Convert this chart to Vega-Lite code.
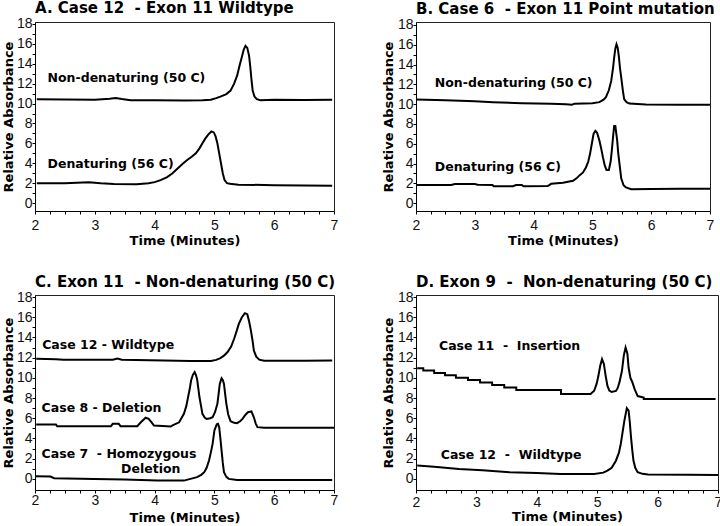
{
  "$schema": "https://vega.github.io/schema/vega-lite/v6.json",
  "padding": {"left": 1, "top": 0, "right": 0, "bottom": 0},
  "background": "white",
  "columns": 2,
  "align": "each",
  "spacing": {"row": 26, "column": 42},
  "config": {
    "font": "Liberation Sans",
    "view": {"stroke": "#222", "strokeWidth": 1},
    "axis": {"grid": false, "domainColor": "black", "tickColor": "black", "tickSize": 3, "labelFont": "Liberation Sans", "labelFontSize": 14, "labelColor": "#111", "titleFont": "DejaVu Sans", "titleFontSize": 13, "titleFontWeight": "bold", "titleColor": "black", "labelFlush": false, "labelOverlap": false},
    "title": {"font": "DejaVu Sans", "fontSize": 15, "fontWeight": "bold", "anchor": "start", "frame": "group", "offset": 0.5, "color": "black"},
    "line": {"color": "black", "strokeWidth": 2},
    "text": {"font": "DejaVu Sans", "fontSize": 12.5, "fontWeight": "bold", "align": "left", "baseline": "middle", "color": "black"}
  },
  "datasets": {
    "A": [
      {"s": "n", "t": 2.03, "v": 10.44}, {"s": "n", "t": 2.5, "v": 10.42}, {"s": "n", "t": 3.0, "v": 10.38}, {"s": "n", "t": 3.25, "v": 10.48}, {"s": "n", "t": 3.35, "v": 10.55}, {"s": "n", "t": 3.45, "v": 10.45}, {"s": "n", "t": 3.6, "v": 10.34}, {"s": "n", "t": 4.0, "v": 10.33}, {"s": "n", "t": 4.5, "v": 10.32}, {"s": "n", "t": 4.8, "v": 10.33}, {"s": "n", "t": 4.94, "v": 10.38}, {"s": "n", "t": 5.03, "v": 10.55}, {"s": "n", "t": 5.1, "v": 10.7}, {"s": "n", "t": 5.2, "v": 10.95}, {"s": "n", "t": 5.27, "v": 11.3}, {"s": "n", "t": 5.33, "v": 12.0}, {"s": "n", "t": 5.38, "v": 12.8}, {"s": "n", "t": 5.42, "v": 13.8}, {"s": "n", "t": 5.46, "v": 14.7}, {"s": "n", "t": 5.49, "v": 15.4}, {"s": "n", "t": 5.52, "v": 15.8}, {"s": "n", "t": 5.55, "v": 15.6}, {"s": "n", "t": 5.58, "v": 14.8}, {"s": "n", "t": 5.6, "v": 13.7}, {"s": "n", "t": 5.62, "v": 12.4}, {"s": "n", "t": 5.64, "v": 11.3}, {"s": "n", "t": 5.67, "v": 10.7}, {"s": "n", "t": 5.71, "v": 10.45}, {"s": "n", "t": 5.77, "v": 10.34}, {"s": "n", "t": 6.0, "v": 10.38}, {"s": "n", "t": 6.5, "v": 10.36}, {"s": "n", "t": 6.97, "v": 10.38},
      {"s": "d", "t": 2.03, "v": 2.0}, {"s": "d", "t": 2.5, "v": 1.98}, {"s": "d", "t": 2.9, "v": 2.1}, {"s": "d", "t": 3.1, "v": 2.0}, {"s": "d", "t": 3.32, "v": 1.92}, {"s": "d", "t": 3.7, "v": 1.9}, {"s": "d", "t": 3.9, "v": 1.98}, {"s": "d", "t": 4.0, "v": 2.1}, {"s": "d", "t": 4.1, "v": 2.3}, {"s": "d", "t": 4.21, "v": 2.6}, {"s": "d", "t": 4.3, "v": 3.0}, {"s": "d", "t": 4.38, "v": 3.45}, {"s": "d", "t": 4.47, "v": 3.95}, {"s": "d", "t": 4.55, "v": 4.35}, {"s": "d", "t": 4.62, "v": 4.65}, {"s": "d", "t": 4.69, "v": 5.0}, {"s": "d", "t": 4.75, "v": 5.5}, {"s": "d", "t": 4.8, "v": 6.0}, {"s": "d", "t": 4.85, "v": 6.5}, {"s": "d", "t": 4.9, "v": 6.9}, {"s": "d", "t": 4.95, "v": 7.2}, {"s": "d", "t": 4.99, "v": 7.1}, {"s": "d", "t": 5.02, "v": 6.7}, {"s": "d", "t": 5.05, "v": 6.0}, {"s": "d", "t": 5.08, "v": 5.0}, {"s": "d", "t": 5.11, "v": 4.0}, {"s": "d", "t": 5.14, "v": 3.0}, {"s": "d", "t": 5.17, "v": 2.3}, {"s": "d", "t": 5.21, "v": 2.0}, {"s": "d", "t": 5.26, "v": 1.93}, {"s": "d", "t": 5.4, "v": 1.85}, {"s": "d", "t": 6.0, "v": 1.8}, {"s": "d", "t": 6.5, "v": 1.77}, {"s": "d", "t": 6.97, "v": 1.75}
    ],
    "Alab": [
      {"t": 2.21, "v": 12.6, "label": "Non-denaturing (50 C)"},
      {"t": 2.21, "v": 3.9, "label": "Denaturing (56 C)"}
    ],
    "B": [
      {"s": "n", "t": 2.0, "v": 10.46}, {"s": "n", "t": 2.5, "v": 10.4}, {"s": "n", "t": 3.0, "v": 10.3}, {"s": "n", "t": 3.31, "v": 10.2}, {"s": "n", "t": 3.8, "v": 10.1}, {"s": "n", "t": 4.3, "v": 10.05}, {"s": "n", "t": 4.55, "v": 10.0}, {"s": "n", "t": 4.65, "v": 9.95}, {"s": "n", "t": 4.7, "v": 10.05}, {"s": "n", "t": 5.0, "v": 10.1}, {"s": "n", "t": 5.12, "v": 10.2}, {"s": "n", "t": 5.19, "v": 10.45}, {"s": "n", "t": 5.23, "v": 10.7}, {"s": "n", "t": 5.28, "v": 11.4}, {"s": "n", "t": 5.32, "v": 12.35}, {"s": "n", "t": 5.35, "v": 13.6}, {"s": "n", "t": 5.37, "v": 14.7}, {"s": "n", "t": 5.39, "v": 15.6}, {"s": "n", "t": 5.41, "v": 16.05}, {"s": "n", "t": 5.43, "v": 15.7}, {"s": "n", "t": 5.45, "v": 14.8}, {"s": "n", "t": 5.47, "v": 13.6}, {"s": "n", "t": 5.49, "v": 12.7}, {"s": "n", "t": 5.52, "v": 11.3}, {"s": "n", "t": 5.54, "v": 10.5}, {"s": "n", "t": 5.58, "v": 10.2}, {"s": "n", "t": 5.63, "v": 10.06}, {"s": "n", "t": 5.91, "v": 9.96}, {"s": "n", "t": 6.5, "v": 9.95}, {"s": "n", "t": 7.0, "v": 9.93},
      {"s": "d", "t": 2.0, "v": 1.82}, {"s": "d", "t": 2.6, "v": 1.82}, {"s": "d", "t": 2.66, "v": 1.92}, {"s": "d", "t": 3.0, "v": 1.92}, {"s": "d", "t": 3.05, "v": 1.85}, {"s": "d", "t": 3.3, "v": 1.82}, {"s": "d", "t": 3.32, "v": 1.7}, {"s": "d", "t": 3.65, "v": 1.7}, {"s": "d", "t": 3.7, "v": 1.82}, {"s": "d", "t": 3.8, "v": 1.82}, {"s": "d", "t": 3.83, "v": 1.7}, {"s": "d", "t": 4.24, "v": 1.72}, {"s": "d", "t": 4.3, "v": 1.95}, {"s": "d", "t": 4.5, "v": 2.05}, {"s": "d", "t": 4.67, "v": 2.25}, {"s": "d", "t": 4.73, "v": 2.5}, {"s": "d", "t": 4.78, "v": 2.8}, {"s": "d", "t": 4.84, "v": 3.1}, {"s": "d", "t": 4.89, "v": 3.6}, {"s": "d", "t": 4.93, "v": 4.2}, {"s": "d", "t": 4.96, "v": 4.98}, {"s": "d", "t": 4.99, "v": 6.0}, {"s": "d", "t": 5.02, "v": 7.0}, {"s": "d", "t": 5.05, "v": 7.3}, {"s": "d", "t": 5.08, "v": 7.1}, {"s": "d", "t": 5.12, "v": 6.3}, {"s": "d", "t": 5.15, "v": 5.5}, {"s": "d", "t": 5.18, "v": 4.6}, {"s": "d", "t": 5.21, "v": 3.8}, {"s": "d", "t": 5.24, "v": 3.35}, {"s": "d", "t": 5.28, "v": 3.35}, {"s": "d", "t": 5.31, "v": 4.2}, {"s": "d", "t": 5.33, "v": 5.3}, {"s": "d", "t": 5.35, "v": 6.6}, {"s": "d", "t": 5.37, "v": 7.8}, {"s": "d", "t": 5.39, "v": 7.8}, {"s": "d", "t": 5.42, "v": 6.4}, {"s": "d", "t": 5.44, "v": 5.0}, {"s": "d", "t": 5.47, "v": 3.5}, {"s": "d", "t": 5.49, "v": 2.5}, {"s": "d", "t": 5.53, "v": 1.8}, {"s": "d", "t": 5.57, "v": 1.58}, {"s": "d", "t": 5.66, "v": 1.41}, {"s": "d", "t": 6.0, "v": 1.42}, {"s": "d", "t": 6.5, "v": 1.44}, {"s": "d", "t": 7.0, "v": 1.45}
    ],
    "Blab": [
      {"t": 2.32, "v": 12.15, "label": "Non-denaturing (50 C)"},
      {"t": 2.32, "v": 3.6, "label": "Denaturing (56 C)"}
    ],
    "C": [
      {"s": "w", "t": 2.02, "v": 11.9}, {"s": "w", "t": 2.35, "v": 11.85}, {"s": "w", "t": 2.48, "v": 11.8}, {"s": "w", "t": 3.3, "v": 11.8}, {"s": "w", "t": 3.38, "v": 11.92}, {"s": "w", "t": 3.45, "v": 11.8}, {"s": "w", "t": 4.16, "v": 11.72}, {"s": "w", "t": 4.6, "v": 11.68}, {"s": "w", "t": 4.94, "v": 11.66}, {"s": "w", "t": 5.03, "v": 11.78}, {"s": "w", "t": 5.1, "v": 11.95}, {"s": "w", "t": 5.16, "v": 12.2}, {"s": "w", "t": 5.22, "v": 12.55}, {"s": "w", "t": 5.28, "v": 13.1}, {"s": "w", "t": 5.33, "v": 13.87}, {"s": "w", "t": 5.37, "v": 14.6}, {"s": "w", "t": 5.41, "v": 15.36}, {"s": "w", "t": 5.46, "v": 16.0}, {"s": "w", "t": 5.51, "v": 16.4}, {"s": "w", "t": 5.55, "v": 16.3}, {"s": "w", "t": 5.58, "v": 15.6}, {"s": "w", "t": 5.61, "v": 14.7}, {"s": "w", "t": 5.64, "v": 13.6}, {"s": "w", "t": 5.66, "v": 12.7}, {"s": "w", "t": 5.7, "v": 12.1}, {"s": "w", "t": 5.75, "v": 11.8}, {"s": "w", "t": 5.83, "v": 11.7}, {"s": "w", "t": 6.5, "v": 11.7}, {"s": "w", "t": 6.97, "v": 11.72},
      {"s": "del", "t": 2.02, "v": 5.38}, {"s": "del", "t": 2.35, "v": 5.38}, {"s": "del", "t": 2.37, "v": 5.22}, {"s": "del", "t": 3.27, "v": 5.22}, {"s": "del", "t": 3.3, "v": 5.45}, {"s": "del", "t": 3.4, "v": 5.45}, {"s": "del", "t": 3.43, "v": 5.22}, {"s": "del", "t": 3.71, "v": 5.22}, {"s": "del", "t": 3.77, "v": 5.6}, {"s": "del", "t": 3.85, "v": 6.05}, {"s": "del", "t": 3.9, "v": 5.95}, {"s": "del", "t": 3.95, "v": 5.6}, {"s": "del", "t": 3.99, "v": 5.28}, {"s": "del", "t": 4.27, "v": 5.18}, {"s": "del", "t": 4.3, "v": 5.3}, {"s": "del", "t": 4.41, "v": 5.6}, {"s": "del", "t": 4.49, "v": 6.44}, {"s": "del", "t": 4.53, "v": 7.2}, {"s": "del", "t": 4.56, "v": 8.1}, {"s": "del", "t": 4.59, "v": 9.0}, {"s": "del", "t": 4.61, "v": 9.74}, {"s": "del", "t": 4.64, "v": 10.3}, {"s": "del", "t": 4.67, "v": 10.57}, {"s": "del", "t": 4.69, "v": 10.3}, {"s": "del", "t": 4.71, "v": 9.9}, {"s": "del", "t": 4.73, "v": 9.0}, {"s": "del", "t": 4.75, "v": 8.1}, {"s": "del", "t": 4.78, "v": 7.1}, {"s": "del", "t": 4.8, "v": 6.44}, {"s": "del", "t": 4.84, "v": 6.05}, {"s": "del", "t": 4.87, "v": 5.94}, {"s": "del", "t": 4.93, "v": 6.0}, {"s": "del", "t": 4.97, "v": 6.1}, {"s": "del", "t": 5.01, "v": 6.6}, {"s": "del", "t": 5.05, "v": 7.43}, {"s": "del", "t": 5.07, "v": 8.4}, {"s": "del", "t": 5.09, "v": 9.4}, {"s": "del", "t": 5.12, "v": 9.97}, {"s": "del", "t": 5.14, "v": 9.8}, {"s": "del", "t": 5.16, "v": 9.4}, {"s": "del", "t": 5.18, "v": 8.4}, {"s": "del", "t": 5.2, "v": 7.43}, {"s": "del", "t": 5.23, "v": 6.4}, {"s": "del", "t": 5.27, "v": 5.71}, {"s": "del", "t": 5.33, "v": 5.55}, {"s": "del", "t": 5.38, "v": 5.51}, {"s": "del", "t": 5.43, "v": 5.7}, {"s": "del", "t": 5.47, "v": 5.94}, {"s": "del", "t": 5.52, "v": 6.35}, {"s": "del", "t": 5.56, "v": 6.6}, {"s": "del", "t": 5.62, "v": 6.67}, {"s": "del", "t": 5.66, "v": 6.1}, {"s": "del", "t": 5.69, "v": 5.5}, {"s": "del", "t": 5.72, "v": 5.12}, {"s": "del", "t": 5.83, "v": 5.05}, {"s": "del", "t": 6.5, "v": 5.05}, {"s": "del", "t": 7.0, "v": 5.05},
      {"s": "h", "t": 2.0, "v": 0.26}, {"s": "h", "t": 2.26, "v": 0.23}, {"s": "h", "t": 2.32, "v": 0.07}, {"s": "h", "t": 2.99, "v": 0.0}, {"s": "h", "t": 3.5, "v": -0.05}, {"s": "h", "t": 4.05, "v": -0.17}, {"s": "h", "t": 4.49, "v": -0.17}, {"s": "h", "t": 4.6, "v": 0.0}, {"s": "h", "t": 4.71, "v": 0.17}, {"s": "h", "t": 4.78, "v": 0.4}, {"s": "h", "t": 4.83, "v": 0.66}, {"s": "h", "t": 4.87, "v": 1.1}, {"s": "h", "t": 4.91, "v": 1.82}, {"s": "h", "t": 4.94, "v": 2.6}, {"s": "h", "t": 4.97, "v": 3.47}, {"s": "h", "t": 5.0, "v": 4.79}, {"s": "h", "t": 5.04, "v": 5.4}, {"s": "h", "t": 5.06, "v": 5.45}, {"s": "h", "t": 5.08, "v": 5.12}, {"s": "h", "t": 5.1, "v": 4.0}, {"s": "h", "t": 5.12, "v": 2.8}, {"s": "h", "t": 5.14, "v": 1.6}, {"s": "h", "t": 5.16, "v": 0.66}, {"s": "h", "t": 5.2, "v": 0.2}, {"s": "h", "t": 5.24, "v": 0.0}, {"s": "h", "t": 5.38, "v": -0.1}, {"s": "h", "t": 6.0, "v": -0.1}, {"s": "h", "t": 6.97, "v": -0.1}
    ],
    "Clab": [
      {"t": 2.12, "v": 13.28, "label": "Case 12 - Wildtype"},
      {"t": 2.11, "v": 7.03, "label": "Case 8 - Deletion"},
      {"t": 2.11, "v": 2.48, "label": "Case 7\u00a0 - Homozygous"},
      {"t": 3.44, "v": 0.99, "label": "Deletion"}
    ],
    "D": [
      {"s": "i", "t": 2.02, "v": 10.95}, {"s": "i", "t": 2.12, "v": 10.95}, {"s": "i", "t": 2.121, "v": 10.72}, {"s": "i", "t": 2.3, "v": 10.72}, {"s": "i", "t": 2.301, "v": 10.48}, {"s": "i", "t": 2.48, "v": 10.48}, {"s": "i", "t": 2.481, "v": 10.25}, {"s": "i", "t": 2.66, "v": 10.25}, {"s": "i", "t": 2.661, "v": 10.02}, {"s": "i", "t": 2.86, "v": 10.02}, {"s": "i", "t": 2.861, "v": 9.78}, {"s": "i", "t": 3.06, "v": 9.78}, {"s": "i", "t": 3.061, "v": 9.55}, {"s": "i", "t": 3.26, "v": 9.55}, {"s": "i", "t": 3.261, "v": 9.3}, {"s": "i", "t": 3.46, "v": 9.3}, {"s": "i", "t": 3.461, "v": 9.05}, {"s": "i", "t": 3.66, "v": 9.05}, {"s": "i", "t": 3.661, "v": 8.8}, {"s": "i", "t": 4.4, "v": 8.8}, {"s": "i", "t": 4.401, "v": 8.4}, {"s": "i", "t": 4.89, "v": 8.4}, {"s": "i", "t": 4.95, "v": 8.72}, {"s": "i", "t": 4.99, "v": 9.4}, {"s": "i", "t": 5.02, "v": 10.2}, {"s": "i", "t": 5.05, "v": 11.2}, {"s": "i", "t": 5.08, "v": 11.85}, {"s": "i", "t": 5.11, "v": 11.4}, {"s": "i", "t": 5.14, "v": 10.2}, {"s": "i", "t": 5.17, "v": 9.2}, {"s": "i", "t": 5.2, "v": 8.75}, {"s": "i", "t": 5.24, "v": 8.6}, {"s": "i", "t": 5.31, "v": 8.7}, {"s": "i", "t": 5.34, "v": 9.0}, {"s": "i", "t": 5.37, "v": 9.6}, {"s": "i", "t": 5.41, "v": 10.7}, {"s": "i", "t": 5.44, "v": 12.2}, {"s": "i", "t": 5.47, "v": 13.0}, {"s": "i", "t": 5.5, "v": 12.4}, {"s": "i", "t": 5.52, "v": 11.0}, {"s": "i", "t": 5.55, "v": 10.0}, {"s": "i", "t": 5.58, "v": 9.6}, {"s": "i", "t": 5.62, "v": 8.88}, {"s": "i", "t": 5.67, "v": 8.2}, {"s": "i", "t": 5.77, "v": 8.06}, {"s": "i", "t": 5.771, "v": 7.9}, {"s": "i", "t": 6.5, "v": 7.9}, {"s": "i", "t": 6.96, "v": 7.9},
      {"s": "w", "t": 2.02, "v": 1.32}, {"s": "w", "t": 2.3, "v": 1.2}, {"s": "w", "t": 2.71, "v": 0.99}, {"s": "w", "t": 3.1, "v": 0.85}, {"s": "w", "t": 3.55, "v": 0.66}, {"s": "w", "t": 4.0, "v": 0.58}, {"s": "w", "t": 4.39, "v": 0.49}, {"s": "w", "t": 4.95, "v": 0.49}, {"s": "w", "t": 5.1, "v": 0.62}, {"s": "w", "t": 5.17, "v": 0.82}, {"s": "w", "t": 5.24, "v": 1.1}, {"s": "w", "t": 5.31, "v": 1.8}, {"s": "w", "t": 5.36, "v": 2.6}, {"s": "w", "t": 5.39, "v": 3.45}, {"s": "w", "t": 5.42, "v": 4.6}, {"s": "w", "t": 5.45, "v": 5.76}, {"s": "w", "t": 5.49, "v": 7.0}, {"s": "w", "t": 5.52, "v": 6.75}, {"s": "w", "t": 5.54, "v": 5.6}, {"s": "w", "t": 5.56, "v": 4.11}, {"s": "w", "t": 5.58, "v": 2.9}, {"s": "w", "t": 5.6, "v": 1.81}, {"s": "w", "t": 5.63, "v": 1.1}, {"s": "w", "t": 5.67, "v": 0.66}, {"s": "w", "t": 5.75, "v": 0.5}, {"s": "w", "t": 5.84, "v": 0.43}, {"s": "w", "t": 6.5, "v": 0.4}, {"s": "w", "t": 7.0, "v": 0.39}
    ],
    "Dlab": [
      {"t": 2.38, "v": 13.16, "label": "Case 11\u00a0 -\u00a0 Insertion"},
      {"t": 2.41, "v": 2.4, "label": "Case 12\u00a0 -\u00a0 Wildtype"}
    ]
  },
  "concat": [
    {
      "width": 299, "height": 189,
      "title": {"text": "A. Case 12\u00a0 - Exon 11 Wildtype"},
      "encoding": {
        "x": {"field": "t", "type": "quantitative", "scale": {"domain": [2, 7], "nice": false, "zero": false}, "axis": {"title": "Time (Minutes)", "values": [2, 2.25, 2.5, 2.75, 3, 3.25, 3.5, 3.75, 4, 4.25, 4.5, 4.75, 5, 5.25, 5.5, 5.75, 6, 6.25, 6.5, 6.75, 7], "labelExpr": "datum.value % 1 === 0 ? format(datum.value, 'd') : ''", "labelOverlap": false, "labelPadding": 4, "titlePadding": 2}},
        "y": {"field": "v", "type": "quantitative", "scale": {"domain": [-0.8, 18.2], "nice": false, "zero": false}, "axis": {"title": "Relative Absorbance", "values": [0, 1, 2, 3, 4, 5, 6, 7, 8, 9, 10, 11, 12, 13, 14, 15, 16, 17, 18], "labelExpr": "datum.value % 2 === 0 ? format(datum.value, 'd') : ''", "labelOverlap": false, "labelPadding": 0, "titlePadding": 1.4}}
      },
      "layer": [
        {"data": {"name": "A"}, "mark": {"type": "line"}, "encoding": {"detail": {"field": "s"}, "order": {"value": null}}},
        {"data": {"name": "Alab"}, "mark": {"type": "text"}, "encoding": {"text": {"field": "label"}}}
      ]
    },
    {
      "width": 294, "height": 189,
      "title": {"text": "B. Case 6\u00a0 - Exon 11 Point mutation"},
      "encoding": {
        "x": {"field": "t", "type": "quantitative", "scale": {"domain": [2, 7], "nice": false, "zero": false}, "axis": {"title": "Time (Minutes)", "values": [2, 2.25, 2.5, 2.75, 3, 3.25, 3.5, 3.75, 4, 4.25, 4.5, 4.75, 5, 5.25, 5.5, 5.75, 6, 6.25, 6.5, 6.75, 7], "labelExpr": "datum.value % 1 === 0 ? format(datum.value, 'd') : ''", "labelOverlap": false, "labelPadding": 4, "titlePadding": 2}},
        "y": {"field": "v", "type": "quantitative", "scale": {"domain": [-0.8, 18.3], "nice": false, "zero": false}, "axis": {"title": "Relative Absorbance", "values": [0, 1, 2, 3, 4, 5, 6, 7, 8, 9, 10, 11, 12, 13, 14, 15, 16, 17, 18], "labelExpr": "datum.value % 2 === 0 ? format(datum.value, 'd') : ''", "labelOverlap": false, "labelPadding": 0, "titlePadding": 2}}
      },
      "layer": [
        {"data": {"name": "B"}, "mark": {"type": "line"}, "encoding": {"detail": {"field": "s"}, "order": {"value": null}}},
        {"data": {"name": "Blab"}, "mark": {"type": "text"}, "encoding": {"text": {"field": "label"}}}
      ]
    },
    {
      "width": 299, "height": 195,
      "title": {"text": "C. Exon 11\u00a0 - Non-denaturing (50 C)"},
      "encoding": {
        "x": {"field": "t", "type": "quantitative", "scale": {"domain": [2, 7], "nice": false, "zero": false}, "axis": {"title": "Time (Minutes)", "values": [2, 2.25, 2.5, 2.75, 3, 3.25, 3.5, 3.75, 4, 4.25, 4.5, 4.75, 5, 5.25, 5.5, 5.75, 6, 6.25, 6.5, 6.75, 7], "labelExpr": "datum.value % 1 === 0 ? format(datum.value, 'd') : ''", "labelOverlap": false, "labelPadding": 0, "titlePadding": 4}},
        "y": {"field": "v", "type": "quantitative", "scale": {"domain": [-1.1, 18.2], "nice": false, "zero": false}, "axis": {"title": "Relative Absorbance", "values": [0, 1, 2, 3, 4, 5, 6, 7, 8, 9, 10, 11, 12, 13, 14, 15, 16, 17, 18], "labelExpr": "datum.value % 2 === 0 ? format(datum.value, 'd') : ''", "labelOverlap": false, "labelPadding": 0, "titlePadding": 1.4}}
      },
      "layer": [
        {"data": {"name": "C"}, "mark": {"type": "line"}, "encoding": {"detail": {"field": "s"}, "order": {"value": null}}},
        {"data": {"name": "Clab"}, "mark": {"type": "text"}, "encoding": {"text": {"field": "label"}}}
      ]
    },
    {
      "width": 302, "height": 195,
      "title": {"text": "D. Exon 9\u00a0 -\u00a0 Non-denaturing (50 C)"},
      "encoding": {
        "x": {"field": "t", "type": "quantitative", "scale": {"domain": [2, 7], "nice": false, "zero": false}, "axis": {"title": "Time (Minutes)", "values": [2, 2.25, 2.5, 2.75, 3, 3.25, 3.5, 3.75, 4, 4.25, 4.5, 4.75, 5, 5.25, 5.5, 5.75, 6, 6.25, 6.5, 6.75, 7], "labelExpr": "datum.value % 1 === 0 ? format(datum.value, 'd') : ''", "labelOverlap": false, "labelPadding": 2, "titlePadding": 1}},
        "y": {"field": "v", "type": "quantitative", "scale": {"domain": [-1.1, 18.2], "nice": false, "zero": false}, "axis": {"title": "Relative Absorbance", "values": [0, 1, 2, 3, 4, 5, 6, 7, 8, 9, 10, 11, 12, 13, 14, 15, 16, 17, 18], "labelExpr": "datum.value % 2 === 0 ? format(datum.value, 'd') : ''", "labelOverlap": false, "labelPadding": 0, "titlePadding": 2}}
      },
      "layer": [
        {"data": {"name": "D"}, "mark": {"type": "line"}, "encoding": {"detail": {"field": "s"}, "order": {"value": null}}},
        {"data": {"name": "Dlab"}, "mark": {"type": "text"}, "encoding": {"text": {"field": "label"}}}
      ]
    }
  ]
}
